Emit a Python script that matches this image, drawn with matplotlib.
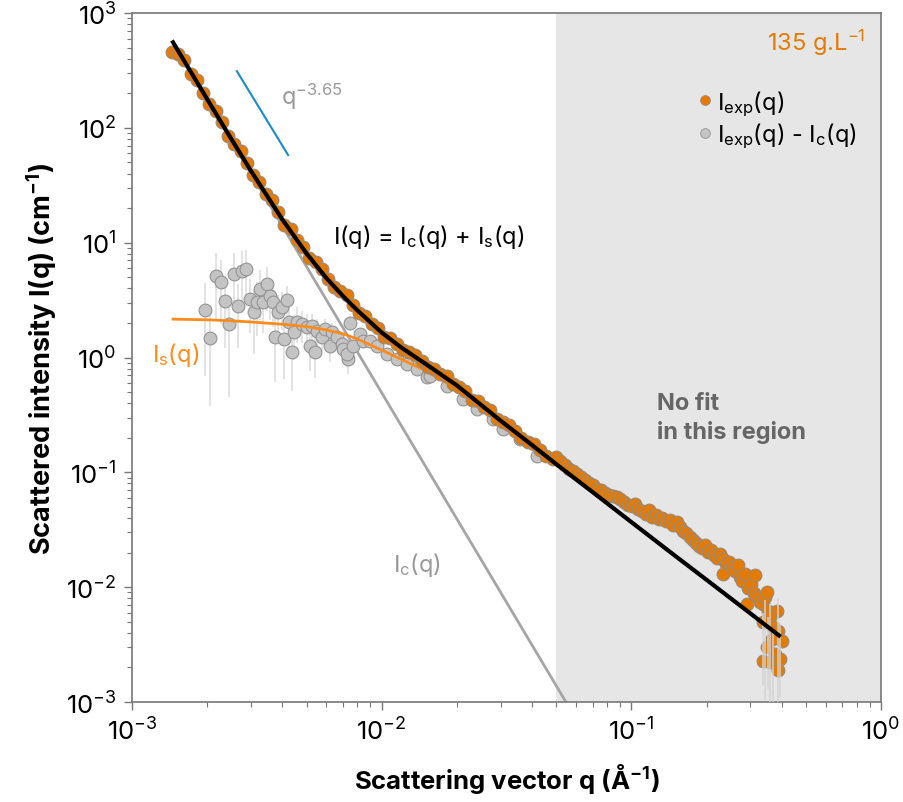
import matplotlib.pyplot as plt
from matplotlib.lines import Line2D

plt.rcParams['font.family'] = ['Inter', 'DejaVu Sans']
plt.rcParams['mathtext.default'] = 'regular'

# --- measured intensity I_exp(q) -------------------------------------------
exp_q = [1.445e-3, 1.531e-3, 1.622e-3, 1.718e-3, 1.820e-3, 1.928e-3, 2.042e-3, 2.163e-3,
         2.291e-3, 2.427e-3, 2.570e-3, 2.723e-3, 2.884e-3, 3.055e-3, 3.236e-3, 3.428e-3,
         3.631e-3, 3.846e-3, 4.074e-3, 4.315e-3, 4.571e-3, 4.842e-3, 5.129e-3, 5.433e-3,
         5.754e-3, 6.095e-3, 6.457e-3, 6.839e-3, 7.244e-3, 7.674e-3, 8.128e-3, 8.610e-3,
         9.120e-3, 9.661e-3, 0.01023, 0.01084, 0.01148, 0.01216, 0.01288, 0.01365,
         0.01445, 0.01531, 0.01622, 0.01718, 0.01820, 0.01928, 0.02042, 0.02163,
         0.02291, 0.02427, 0.02570, 0.02723, 0.02884, 0.03055, 0.03236, 0.03428,
         0.03631, 0.03846, 0.04074, 0.04315, 0.04571, 0.04842,
         0.0499, 0.0518, 0.0542, 0.0562, 0.0583, 0.0605, 0.0628, 0.0652, 0.0676, 0.0702,
         0.0728, 0.0755, 0.0783, 0.0813, 0.0843, 0.0875, 0.0899, 0.0933, 0.0968, 0.1005,
         0.1033, 0.1062, 0.1102, 0.1143, 0.1175, 0.1211, 0.1256, 0.1291, 0.1327, 0.1377,
         0.1429, 0.1469, 0.1524, 0.1567, 0.1611, 0.1656, 0.1718, 0.1766, 0.1816, 0.1866,
         0.1919, 0.1972, 0.2028, 0.2084, 0.2143, 0.2203, 0.2265, 0.2328, 0.2393, 0.2460,
         0.2328, 0.2529, 0.2600, 0.2673, 0.2723, 0.2773, 0.2851, 0.2931, 0.3013, 0.3126,
         0.3097, 0.3184, 0.2904, 0.3273, 0.3365, 0.3428, 0.3491, 0.3524, 0.3828, 0.3589,
         0.3365, 0.3690, 0.3864, 0.4009, 0.3491, 0.3758, 0.3365, 0.3589, 0.3864, 0.3656,
         0.3936]
exp_I = [457, 436, 388, 294, 262, 203, 161, 141,
         112, 85.1, 72.4, 63.4, 49.3, 38.5, 34.0, 26.8,
         23.7, 18.6, 14.4, 13.2, 10.6, 9.10, 7.35, 6.73,
         5.90, 4.85, 4.14, 3.79, 3.48, 2.86, 2.42, 2.31,
         1.97, 1.80, 1.51, 1.48, 1.31, 1.17, 1.12, 1.06,
         0.929, 0.832, 0.800, 0.716, 0.689, 0.589, 0.551, 0.511,
         0.431, 0.418, 0.369, 0.349, 0.294, 0.272, 0.259, 0.230,
         0.199, 0.185, 0.175, 0.156, 0.138, 0.131,
         0.1355, 0.1250, 0.1156, 0.1067, 0.1023, 0.0964, 0.0908, 0.0855, 0.0805, 0.0773,
         0.0714, 0.0700, 0.0659, 0.0632, 0.0621, 0.0608, 0.0583, 0.0550, 0.0518, 0.0507,
         0.0528, 0.0478, 0.0459, 0.0433, 0.0469, 0.0407, 0.0424, 0.0391, 0.0399, 0.0376,
         0.0384, 0.0347, 0.0368, 0.0333, 0.0308, 0.0295, 0.0272, 0.0256, 0.0242, 0.0228,
         0.0219, 0.0232, 0.0202, 0.0210, 0.0190, 0.0179, 0.0194, 0.0175, 0.0158, 0.0165,
         0.0130, 0.0149, 0.0138, 0.0156, 0.0122, 0.0113, 0.0130, 0.00980, 0.0106, 0.0127,
         0.00887, 0.00818, 0.00711, 0.00740, 0.00711, 0.00818, 0.00904, 0.00618, 0.00618, 0.00547,
         0.00495, 0.00448, 0.00413, 0.00338, 0.00300, 0.00261, 0.00226, 0.00222, 0.00189, 0.00352,
         0.00236]

# error bars of the noisiest high-q points
hiq_err_q = [0.336, 0.343, 0.352, 0.359, 0.369, 0.386, 0.394]
hiq_err_lo = [1.4e-3, 1.05e-3, 1.3e-3, 1.0e-3, 1.0e-3, 1.0e-3, 1.1e-3]
hiq_err_hi = [6.0e-3, 7.8e-3, 5.5e-3, 7.1e-3, 4.3e-3, 8.0e-3, 5.0e-3]

# --- I_exp(q) - I_c(q) -----------------------------------------------------
sub_q = [1.96e-3, 2.05e-3, 2.17e-3, 2.27e-3, 2.36e-3, 2.45e-3, 2.56e-3, 2.66e-3, 2.76e-3,
         2.86e-3, 2.97e-3, 3.08e-3, 3.26e-3, 3.47e-3, 3.17e-3, 3.35e-3, 3.57e-3, 3.67e-3,
         3.84e-3, 3.99e-3, 4.18e-3, 3.74e-3, 4.06e-3, 4.37e-3, 4.25e-3, 4.58e-3, 4.45e-3,
         4.80e-3, 5.02e-3, 5.26e-3, 5.16e-3, 5.41e-3, 5.51e-3, 5.77e-3, 5.93e-3, 6.21e-3,
         6.32e-3, 6.62e-3, 6.93e-3, 7.00e-3, 7.33e-3, 7.46e-3, 7.26e-3, 7.67e-3, 8.19e-3,
         8.41e-3, 8.98e-3, 9.57e-3, 0.0105, 0.0115, 0.0126, 0.0138, 0.0152, 0.0156,
         0.0183, 0.0212, 0.0241, 0.0279, 0.0306, 0.0358, 0.0419]
sub_I = [2.59, 1.48, 5.12, 4.54, 3.10, 1.95, 5.32, 2.81, 5.66,
         5.89, 3.23, 2.48, 3.94, 4.36, 3.04, 3.04, 3.43, 3.04,
         2.48, 2.75, 3.16, 1.51, 1.45, 1.11, 2.03, 2.03, 1.66,
         1.95, 1.84, 1.88, 1.26, 1.11, 1.70, 1.51, 1.77, 1.26,
         1.66, 1.51, 1.31, 1.18, 0.968, 2.00, 1.07, 1.26, 1.60,
         1.39, 1.39, 1.26, 1.07, 0.968, 0.875, 0.792, 0.675, 0.689,
         0.564, 0.434, 0.355, 0.290, 0.238, 0.195, 0.138]
sub_err = [1.9, 1.1, 3.0, 2.6, 1.9, 1.5, 2.8, 1.6, 2.8,
           2.7, 1.6, 1.4, 1.8, 1.8, 1.5, 1.4, 1.3, 1.2,
           1.0, 1.0, 1.0, 0.9, 0.8, 0.6, 0.8, 0.7, 0.7,
           0.6, 0.55, 0.5, 0.5, 0.45, 0.45, 0.4, 0.4, 0.35,
           0.35, 0.3, 0.3, 0.28, 0.25, 0.3, 0.25, 0.22, 0.2,
           0.18, 0.15, 0.12, 0.08, 0.06, 0.05, 0.04, 0.03, 0.03,
           0.02, 0.02, 0.015, 0.01, 0.01, 0.008, 0.006]

# --- model curves ------------------------------------------------------------
fit_q = [0.00146, 0.002, 0.0025, 0.003, 0.004, 0.005, 0.006, 0.007, 0.008, 0.01, 0.012,
         0.015, 0.02, 0.025, 0.03, 0.04, 0.05, 0.07, 0.1, 0.15, 0.2, 0.3, 0.39]
fit_total = [556, 178, 79.9, 42.0, 15.95, 8.06, 4.93, 3.43, 2.57, 1.65, 1.22,
             0.88, 0.572, 0.387, 0.281, 0.173, 0.118, 0.0673, 0.0369, 0.0187, 0.0116, 0.0059, 0.0038]
fit_Is = [2.16, 2.13, 2.09, 2.04, 1.95, 1.86, 1.74, 1.61, 1.45, 1.16, 0.965,
          0.767, 0.533, 0.37, 0.272, 0.17, 0.117, 0.0668, 0.0368, 0.0187, 0.0116, 0.0059, 0.0038]
Ic_q = [0.00146, 0.06]
Ic_I = [554, 7.14e-4]
slope_q = [2.63e-3, 4.22e-3]
slope_I = [312, 58]

ORANGE = '#e57a00'
LIGHT_ORANGE = '#ff8c1a'
GREY_TXT = '#999999'

fig = plt.figure(figsize=(9.04, 8.03), dpi=100)
ax = fig.add_axes([0.146, 0.1245, 0.8286, 0.858])
ax.set_xscale('log')
ax.set_yscale('log')
ax.set_xlim(1e-3, 1)
ax.set_ylim(1e-3, 1e3)

ax.axvspan(0.05, 1, color='#e6e6e6', lw=0, zorder=0)

ax.plot(Ic_q, Ic_I, color='#a5a5a5', lw=2, zorder=1)
ax.errorbar(sub_q, sub_I, yerr=sub_err, fmt='none', ecolor='#dedede', elinewidth=1.2, zorder=1.5)
ax.plot(sub_q, sub_I, 'o', ms=9.2, mfc='#c4c4c4', mec='#939393', mew=0.8, zorder=2)
ax.plot(fit_q, fit_Is, color=LIGHT_ORANGE, lw=2, zorder=3)
ax.plot(exp_q, exp_I, 'o', ms=9.2, mfc=ORANGE, mec='#9a8a7a', mew=0.8, zorder=4)
ax.vlines(hiq_err_q, hiq_err_lo, hiq_err_hi, color='#d4d4d4', lw=1.3, alpha=0.8, zorder=4.5)
ax.plot(fit_q, fit_total, color='black', lw=3, zorder=5)
ax.plot(slope_q, slope_I, color='#1a8cc7', lw=1.5, zorder=5)

# annotations
ax.text(3.95e-3, 190, '$q^{-3.65}$', color=GREY_TXT, fontsize=17, va='center')
ax.text(6.38e-3, 11.4, 'I(q) = I$_{c}$(q) + I$_{s}$(q)', fontsize=17, va='center')
ax.text(1.2e-3, 1.07, 'I$_{s}$(q)', color=LIGHT_ORANGE, fontsize=17, va='center')
ax.text(0.0111, 0.0158, 'I$_{c}$(q)', color=GREY_TXT, fontsize=17, va='center')
ax.text(0.1267, 0.30, 'No fit\nin this region', color='#666666', fontsize=17,
        fontweight='bold', va='center', linespacing=1.35)
ax.text(0.862, 558, '135 g.L$^{-1}$', color=ORANGE, fontsize=17, ha='right', va='center')

handles = [Line2D([], [], ls='none', marker='o', ms=7, mfc=ORANGE, mec='#9a8a7a', mew=0.6),
           Line2D([], [], ls='none', marker='o', ms=7, mfc='#c4c4c4', mec='#939393', mew=0.6)]
ax.legend(handles, ['I$_{exp}$(q)', 'I$_{exp}$(q) - I$_{c}$(q)'], loc='upper left',
          bbox_to_anchor=(0.742, 0.908), frameon=False, fontsize=17, handlelength=0.5,
          handletextpad=0.25, borderpad=0, labelspacing=0.12)

ax.set_xlabel('Scattering vector q (Å$^{-1}$)', fontsize=18.5, fontweight='bold', labelpad=12)
ax.set_ylabel('Scattered intensity I(q) (cm$^{-1}$)', fontsize=19.5, fontweight='bold', labelpad=5)

for s in ax.spines.values():
    s.set_color('#777777')
    s.set_linewidth(1.2)
ax.tick_params(which='major', direction='out', length=6, width=1, color='#777777',
               labelsize=18.5, pad=5)
ax.tick_params(which='minor', direction='out', length=3.5, width=0.8, color='#777777')

fig.savefig('out.png', dpi=100)
